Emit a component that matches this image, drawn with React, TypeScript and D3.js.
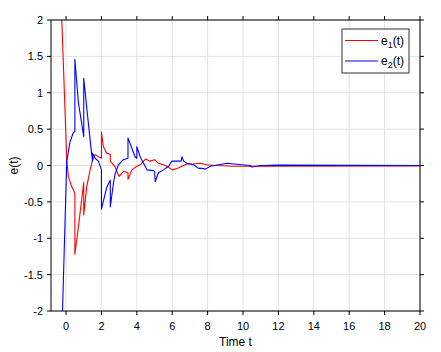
import React from "react";
import * as d3 from "d3";

const xTicks = [0, 2, 4, 6, 8, 10, 12, 14, 16, 18, 20];
const yTicks = [-2, -1.5, -1, -0.5, 0, 0.5, 1, 1.5, 2];
const yTickLabels = ["-2", "-1.5", "-1", "-0.5", "0", "0.5", "1", "1.5", "2"];

const e1T = [-0.24, 0.04, 0.13, 0.32, 0.5, 0.5, 0.7, 1.0, 1.0, 1.17, 1.36, 1.5, 1.64, 1.83, 2.0, 2.0, 2.11, 2.3, 2.5, 2.5, 2.77, 3.0, 3.24, 3.5, 3.5, 3.72, 4.0, 4.19, 4.5, 4.75, 5.0, 5.22, 5.5, 5.7, 6.0, 6.27, 6.55, 6.83, 7.2, 7.58, 7.96, 8.5, 9.5, 10.5, 20];
const e1V = [2.0, 0.08, -0.15, -0.29, -0.38, -1.22, -0.84, -0.23, -0.68, -0.29, -0.06, 0.08, 0.15, 0.12, 0.1, 0.46, 0.26, 0.17, 0.15, 0.06, -0.02, -0.15, -0.08, -0.1, -0.19, -0.06, -0.01, 0.01, 0.09, 0.06, 0.08, 0.03, 0.01, -0.01, -0.06, -0.04, -0.01, 0.02, 0.02, 0.03, 0.01, 0.0, -0.01, -0.01, -0.005];

const e2T = [-0.2, 0.04, 0.23, 0.41, 0.5, 0.5, 0.7, 1.0, 1.0, 1.21, 1.45, 1.5, 1.5, 1.64, 1.83, 2.0, 2.0, 2.3, 2.5, 2.5, 2.68, 2.77, 2.96, 3.24, 3.5, 3.5, 3.9, 4.0, 4.0, 4.19, 4.38, 4.57, 4.94, 5.0, 5.04, 5.22, 5.5, 5.79, 5.98, 6.27, 6.5, 6.55, 6.64, 6.83, 7.2, 7.49, 7.68, 7.87, 8.15, 9.1, 9.5, 10.4, 10.5, 11, 12, 20];
const e2V = [-2.0, 0.06, 0.33, 0.45, 0.47, 1.46, 0.86, 0.4, 1.2, 0.7, 0.15, 0.06, 0.17, 0.1, 0.06, -0.06, -0.6, -0.3, -0.2, -0.57, -0.24, -0.12, 0.01, 0.08, 0.1, 0.38, 0.12, 0.1, 0.26, 0.12, 0.03, -0.06, -0.07, -0.08, -0.22, -0.1, -0.06, -0.01, 0.06, 0.06, 0.06, 0.12, 0.06, 0.03, 0.01, -0.04, -0.04, -0.05, -0.01, 0.03, 0.02, 0.0, -0.02, 0.0, 0.005, 0.0];

const W = 441, H = 352;
const L = 51, R = 420, T = 20, B = 311;
const font = "Liberation Sans, Arial, sans-serif";

export default function App() {
  const x = d3.scaleLinear().domain([-0.85, 20]).range([L, R]);
  const y = d3.scaleLinear().domain([-2, 2]).range([B, T]);
  const line = d3.line<number>().x((_, i) => 0).y(() => 0);
  const mk = (ts: number[], vs: number[]) =>
    d3.line<number>().x((d) => x(d)).y((_, i) => y(vs[i]))(ts) || "";
  void line;
  return (
    <svg width={W} height={H} style={{ position: "absolute", left: 0, top: 0, background: "#fff" }}>
      <defs>
        <clipPath id="clip">
          <rect x={L} y={T} width={R - L} height={B - T} />
        </clipPath>
      </defs>
      <rect x={0} y={0} width={W} height={H} fill="#fff" />
      {xTicks.map((t) => (
        <line key={"gx" + t} x1={x(t)} x2={x(t)} y1={T} y2={B} stroke="#e3e3e3" strokeWidth={1} />
      ))}
      {yTicks.map((t) => (
        <line key={"gy" + t} x1={L} x2={R} y1={y(t)} y2={y(t)} stroke="#e3e3e3" strokeWidth={1} />
      ))}
      <g clipPath="url(#clip)" fill="none" strokeWidth={1.1} strokeLinejoin="round">
        <path d={mk(e1T, e1V)} stroke="#ff0000" />
        <path d={mk(e2T, e2V)} stroke="#0000ff" />
      </g>
      <rect x={L} y={T} width={R - L} height={B - T} fill="none" stroke="#000" strokeWidth={1} />
      {xTicks.map((t) => (
        <g key={"tx" + t}>
          <line x1={x(t)} x2={x(t)} y1={B} y2={B + 4} stroke="#000" />
          <line x1={x(t)} x2={x(t)} y1={T} y2={T - 4} stroke="#000" />
          <text x={x(t)} y={B + 19} textAnchor="middle" fontFamily={font} fontSize={11} fill="#000">{t}</text>
        </g>
      ))}
      {yTicks.map((t, i) => (
        <g key={"ty" + t}>
          <line x1={L} x2={L - 4} y1={y(t)} y2={y(t)} stroke="#000" />
          <line x1={R} x2={R + 4} y1={y(t)} y2={y(t)} stroke="#000" />
          <text x={L - 8} y={y(t) + 4} textAnchor="end" fontFamily={font} fontSize={11} fill="#000">{yTickLabels[i]}</text>
        </g>
      ))}
      <text x={(L + R) / 2} y={346} textAnchor="middle" fontFamily={font} fontSize={12} fill="#000">Time t</text>
      <text transform={`translate(18,${(T + B) / 2}) rotate(-90)`} textAnchor="middle" fontFamily={font} fontSize={12} fill="#000">e(t)</text>
      <g>
        <rect x={342} y={29} width={67} height={44} fill="#fff" stroke="#333" strokeWidth={1} />
        <line x1={345} x2={378} y1={40.5} y2={40.5} stroke="#ff0000" />
        <line x1={345} x2={378} y1={61} y2={61} stroke="#0000ff" />
        <text x={381} y={44.5} fontFamily={font} fontSize={12} fill="#000">e<tspan fontSize={9} dy={3}>1</tspan><tspan dy={-3}>(t)</tspan></text>
        <text x={381} y={65} fontFamily={font} fontSize={12} fill="#000">e<tspan fontSize={9} dy={3}>2</tspan><tspan dy={-3}>(t)</tspan></text>
      </g>
    </svg>
  );
}
